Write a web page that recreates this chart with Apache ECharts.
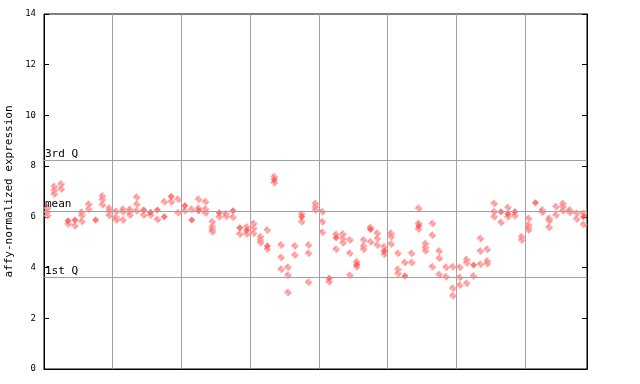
<!DOCTYPE html>
<html>
<head>
<meta charset="utf-8">
<script src="https://cdn.jsdelivr.net/npm/echarts@6/dist/echarts.min.js"></script>
<style>
html,body{margin:0;padding:0;background:#fff;}
#chart{width:640px;height:384px;}
</style>
</head>
<body>
<div id="chart"></div>
<script>
// Sample columns (79 samples, 10 per group separated by vertical grid lines)
const sampleCount = 79;
const groupSize = 10;

// Expression values per sample column (dithered diamond markers)
const checkered = [
  [6.35, 6.2, 6.05], [7.2, 7.05, 6.9], [7.3, 7.1], [5.72], [5.65],
  [6.18, 6.05, 5.82], [6.5, 6.3], [], [6.82, 6.68, 6.48], [6.34, 6.22, 6.05],
  [6.22, 5.98, 5.88], [6.3, 6.2, 5.88], [6.3, 6.2, 6.07], [6.77, 6.5, 6.24], [6.07],
  [6.07], [5.9], [6.6], [6.6], [6.69, 6.16],
  [6.24], [6.3], [6.69, 6.34], [6.6, 6.3, 6.15], [5.81, 5.61, 5.5, 5.41],
  [6.0], [6.12, 6.02], [5.98], [5.32], [5.6, 5.32],
  [5.74, 5.55, 5.35], [5.22, 5.09, 4.98], [5.48, 4.73], [7.58, 7.35], [4.89, 4.4, 3.93],
  [4.01, 3.7, 3.02], [4.85, 4.5], [6.11, 5.81], [4.89, 4.56, 3.42], [6.53, 6.4, 6.27],
  [6.2, 5.81, 5.39], [3.44], [5.3, 4.72], [5.32, 5.15, 4.98], [5.09, 4.56, 3.7],
  [4.23, 4.03], [5.09, 4.85, 4.72], [5.58, 5.02], [5.35, 5.15, 4.89], [4.82, 4.53],
  [5.35, 5.22, 4.93], [4.56, 3.93, 3.77], [4.2], [4.56, 4.2], [6.34, 5.74, 5.52],
  [4.95, 4.8, 4.66], [5.74, 5.27, 4.03], [4.65, 4.37, 3.73], [4.01, 3.64], [4.03, 3.18, 2.89],
  [4.01, 3.61, 3.3], [4.32, 4.19, 3.38], [3.67], [5.15, 4.65, 4.13], [4.72, 4.26, 4.15],
  [6.53, 6.2, 6.0], [5.78], [6.37, 6.0], [6.04], [5.22, 5.09],
  [5.94, 5.68, 5.57, 5.48], [], [6.27, 6.18], [5.94, 5.85, 5.59], [6.4, 6.07],
  [6.53, 6.4, 6.24], [6.27, 6.18], [6.14, 5.92], [6.14, 5.7]
];

// Solid (overlapping) markers: [sample index, value]
const solid = [
  [3, 5.85], [4, 5.88], [7, 5.88], [14, 6.27], [15, 6.18], [16, 6.27], [17, 6.0],
  [18, 6.8], [20, 6.44], [21, 5.88], [22, 6.24], [25, 6.16], [27, 6.24], [28, 5.57],
  [29, 5.47], [32, 4.85], [33, 7.46], [37, 6.0], [41, 3.58], [42, 5.18], [45, 4.12],
  [47, 5.5], [49, 4.65], [52, 3.67], [54, 5.64], [62, 4.1], [66, 6.2], [67, 6.12],
  [68, 6.2], [71, 6.56], [78, 6.0]
];

// Reference lines
const quartileNames = ['3rd Q', 'mean', '1st Q'];
const quartileValues = [8.23, 6.23, 3.62];

// Y axis ticks
const yMin = 0, yMax = 14, yStep = 2;

const RED = '#ff5555';
const GRAY = '#a0a0a0';

function checkerPattern() {
  const c = document.createElement('canvas');
  c.width = 2; c.height = 2;
  const g = c.getContext('2d');
  g.fillStyle = '#ffcccc';
  g.fillRect(0, 0, 2, 2);
  g.fillStyle = RED;
  g.fillRect(0, 0, 1, 1);
  g.fillRect(1, 1, 1, 1);
  return c;
}

// sample i sits in the middle of its slot [i, i+1]
const checkeredData = [];
checkered.forEach((vals, i) => vals.forEach(v => checkeredData.push([i + 0.5, v])));
const solidData = solid.map(([i, v]) => [i + 0.5, v]);

const chart = echarts.init(document.getElementById('chart'), null, {renderer: 'canvas'});
chart.setOption({
  animation: false,
  backgroundColor: '#ffffff',
  grid: {left: 44, right: 53, top: 14, bottom: 15, containLabel: false, outerBoundsMode: 'none',
         show: true, borderColor: '#000', borderWidth: 1, backgroundColor: 'transparent'},
  xAxis: {
    type: 'value',
    min: 0, max: sampleCount, interval: groupSize,
    axisLine: {show: true, lineStyle: {color: '#000', width: 1}},
    axisTick: {show: false},
    axisLabel: {show: false},
    splitLine: {show: true, lineStyle: {color: GRAY, width: 1}}
  },
  yAxis: [{
    type: 'value',
    min: yMin, max: yMax, interval: yStep,
    name: 'affy-normalized expression',
    nameLocation: 'middle',
    nameGap: 27,
    nameTextStyle: {fontFamily: 'DejaVu Sans Mono', fontSize: 11, color: '#000'},
    axisLine: {show: true, lineStyle: {color: '#000', width: 1}},
    axisTick: {show: true, inside: true, length: 5, lineStyle: {color: '#000'}},
    axisLabel: {fontFamily: 'DejaVu Sans Mono', fontSize: 9, color: '#000', margin: 8},
    splitLine: {show: false}
  }, {
    type: 'value',
    position: 'right',
    min: yMin, max: yMax, interval: yStep,
    axisLine: {show: true, lineStyle: {color: '#000', width: 1}},
    axisTick: {show: true, inside: true, length: 5, lineStyle: {color: '#000'}},
    axisLabel: {show: false},
    splitLine: {show: false}
  }],
  series: [{
    type: 'scatter',
    symbol: 'diamond',
    symbolSize: 8,
    data: checkeredData,
    itemStyle: {color: {image: checkerPattern(), repeat: 'repeat'}},
    markLine: {
      silent: true,
      symbol: 'none',
      lineStyle: {color: GRAY, width: 1, type: 'solid'},
      label: {position: 'insideStartTop', distance: [1, 1], fontFamily: 'DejaVu Sans Mono', fontSize: 11, color: '#000', formatter: p => p.name},
      data: quartileNames.map((n, i) => ({name: n, yAxis: quartileValues[i]}))
    },
    z: 3
  }, {
    type: 'scatter',
    symbol: 'diamond',
    symbolSize: 7,
    data: solidData,
    itemStyle: {color: RED},
    z: 4
  }]
});
</script>
</body>
</html>
